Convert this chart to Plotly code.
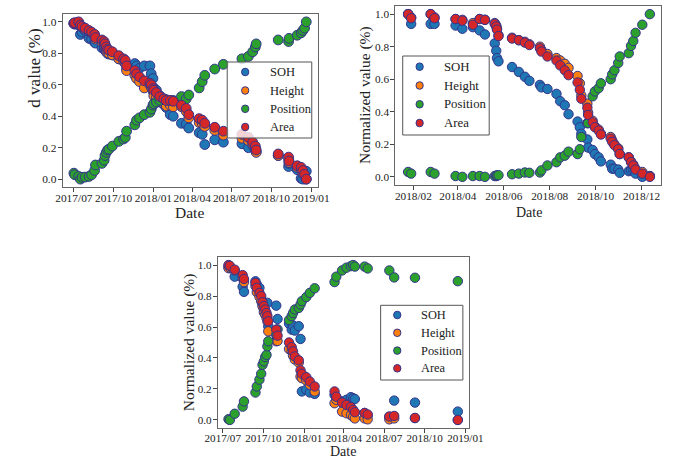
import plotly.graph_objects as go

SERIES = ["SOH", "Height", "Position", "Area"]
COLORS = ["#1f77b4", "#ff7f0e", "#2ca02c", "#d62728"]
EDGE = "#34348c"
FONT = "Liberation Serif, Times New Roman, serif"

# ---- Cell 1 (2017/07 - 2019/01) ----
dates_a = ["2017-07-01", "2017-07-03", "2017-07-12", "2017-07-16", "2017-07-20", "2017-07-27",
           "2017-08-05", "2017-08-11", "2017-08-18", "2017-08-20", "2017-09-04", "2017-09-09",
           "2017-09-11", "2017-09-14", "2017-09-17", "2017-09-20", "2017-09-28", "2017-10-13",
           "2017-10-24", "2017-10-28", "2017-10-31", "2017-11-19", "2017-11-23", "2017-11-30",
           "2017-12-11", "2017-12-24", "2017-12-27", "2017-12-31", "2018-01-02", "2018-01-08",
           "2018-01-16", "2018-01-25", "2018-01-31", "2018-02-09", "2018-02-16", "2018-03-07",
           "2018-03-18", "2018-03-24", "2018-04-17", "2018-04-24", "2018-04-30", "2018-05-23",
           "2018-06-12", "2018-07-25", "2018-08-09", "2018-08-19", "2018-08-25", "2018-08-27",
           "2018-10-17", "2018-11-10", "2018-11-11", "2018-11-30", "2018-12-09", "2018-12-13",
           "2018-12-17", "2018-12-21"]
soh_a = [0.99, 0.985, 0.98, 0.92, 0.935, 0.945, 0.895, 0.89, 0.87, 0.865, 0.835, 0.83, 0.82, 0.81,
         0.80, 0.795, 0.79, 0.765, 0.75, 0.74, 0.70, 0.735, 0.72, 0.705, 0.72, 0.72, 0.67, 0.64,
         0.58, 0.565, 0.53, 0.475, 0.455, 0.41, 0.40, 0.355, 0.35, 0.325, 0.295, 0.285, 0.22, 0.25,
         0.235, 0.225, 0.20, 0.215, 0.19, 0.175, 0.15, 0.08, 0.10, 0.06, 0.005, 0.0, 0.035, 0.05]
height_a = [0.99, 0.99, 0.995, 0.975, 0.965, 0.955, 0.94, 0.93, 0.905, 0.89, 0.87, 0.855, 0.84,
            0.815, 0.805, 0.80, 0.79, 0.765, 0.75, 0.735, 0.69, 0.66, 0.64, 0.62, 0.58, 0.60, 0.585,
            0.56, 0.53, 0.52, 0.49, 0.48, 0.465, 0.47, 0.46, 0.46, 0.43, 0.39, 0.36, 0.355, 0.335,
            0.31, 0.28, 0.26, 0.245, 0.225, 0.195, 0.17, 0.15, 0.125, 0.105, 0.075, 0.06, 0.04,
            0.02, 0.0]
pos_a = [0.038, 0.028, 0.017, 0.0, 0.012, 0.013, 0.017, 0.028, 0.055, 0.09, 0.10, 0.12, 0.15, 0.17,
         0.185, 0.19, 0.21, 0.24, 0.255, 0.265, 0.305, 0.345, 0.375, 0.39, 0.41, 0.425, 0.445, 0.47,
         0.48, 0.49, 0.50, 0.51, 0.505, 0.50, 0.50, 0.525, 0.51, 0.535, 0.58, 0.62, 0.66, 0.70,
         0.73, 0.765, 0.78, 0.81, 0.84, 0.86, 0.885, 0.875, 0.895, 0.915, 0.93, 0.945, 0.96, 1.0]
area_a = [0.99, 0.995, 1.0, 0.98, 0.97, 0.96, 0.945, 0.935, 0.92, 0.90, 0.885, 0.875, 0.86, 0.84,
          0.825, 0.82, 0.81, 0.785, 0.765, 0.755, 0.72, 0.69, 0.67, 0.65, 0.625, 0.61, 0.60, 0.575,
          0.565, 0.55, 0.525, 0.51, 0.50, 0.50, 0.495, 0.47, 0.45, 0.41, 0.385, 0.375, 0.355, 0.33,
          0.305, 0.285, 0.265, 0.235, 0.21, 0.185, 0.16, 0.14, 0.115, 0.085, 0.075, 0.055, 0.03, 0.0]

# ---- Cell 2 (2018/01 - 2018/12) ----
dates_b = ["2018-01-25", "2018-01-29", "2018-02-24", "2018-03-01", "2018-03-29", "2018-04-07",
           "2018-04-21", "2018-04-30", "2018-05-07", "2018-05-20", "2018-05-22", "2018-05-23",
           "2018-05-25", "2018-06-12", "2018-06-21", "2018-06-29", "2018-07-05", "2018-07-19",
           "2018-07-21", "2018-07-29", "2018-08-10", "2018-08-15", "2018-08-21", "2018-08-26",
           "2018-09-07", "2018-09-10", "2018-09-12", "2018-09-20", "2018-09-21", "2018-09-27",
           "2018-09-30", "2018-10-05", "2018-10-08", "2018-10-21", "2018-10-23", "2018-10-26",
           "2018-10-31", "2018-11-02", "2018-11-14", "2018-11-17", "2018-11-20", "2018-11-23",
           "2018-12-02", "2018-12-12"]
soh_b = [1.0, 0.94, 0.94, 0.94, 0.93, 0.91, 0.92, 0.90, 0.875, 0.82, 0.775, 0.73, 0.71, 0.675,
         0.645, 0.615, 0.59, 0.565, 0.55, 0.54, 0.51, 0.465, 0.44, 0.385, 0.34, 0.305, 0.265, 0.23,
         0.18, 0.165, 0.14, 0.12, 0.095, 0.075, 0.05, 0.05, 0.045, 0.025, 0.035, 0.04, 0.045, 0.02,
         0.0, 0.005]
height_b = [1.0, 0.98, 1.0, 0.98, 0.97, 0.965, 0.945, 0.97, 0.965, 0.945, 0.93, 0.91, 0.87, 0.855,
            0.84, 0.83, 0.815, 0.80, 0.78, 0.755, 0.73, 0.715, 0.695, 0.67, 0.62, 0.575, 0.50, 0.45,
            0.395, 0.345, 0.31, 0.29, 0.265, 0.245, 0.225, 0.20, 0.175, 0.14, 0.12, 0.095, 0.075,
            0.05, 0.03, 0.005]
pos_b = [0.03, 0.02, 0.03, 0.02, 0.005, 0.0, 0.005, 0.005, 0.0, 0.005, 0.005, 0.01, 0.01, 0.016,
         0.02, 0.027, 0.025, 0.027, 0.04, 0.07, 0.09, 0.12, 0.13, 0.155, 0.14, 0.17, 0.245, 0.33,
         0.33, 0.495, 0.525, 0.545, 0.575, 0.60, 0.63, 0.655, 0.70, 0.74, 0.76, 0.805, 0.835,
         0.885, 0.935, 1.0]
area_b = [1.0, 0.975, 1.0, 0.975, 0.97, 0.96, 0.935, 0.97, 0.965, 0.94, 0.925, 0.905, 0.865, 0.85,
          0.84, 0.825, 0.81, 0.79, 0.77, 0.74, 0.715, 0.685, 0.655, 0.625, 0.58, 0.535, 0.48, 0.425,
          0.38, 0.335, 0.305, 0.285, 0.26, 0.235, 0.215, 0.195, 0.17, 0.14, 0.12, 0.09, 0.07, 0.045,
          0.02, 0.0]

# ---- Cell 3 (2017/07 - 2018/12) ----
dates_c = ["2017-07-14", "2017-07-17", "2017-07-28", "2017-08-15", "2017-08-18", "2017-09-13",
           "2017-09-16", "2017-09-22", "2017-09-26", "2017-09-29", "2017-10-02", "2017-10-05",
           "2017-10-08", "2017-10-10", "2017-10-12", "2017-10-30", "2017-11-02", "2017-11-28",
           "2017-12-04", "2017-12-07", "2017-12-11", "2017-12-20", "2017-12-24", "2017-12-27",
           "2018-01-06", "2018-01-14", "2018-01-25", "2018-03-11", "2018-03-15", "2018-03-28",
           "2018-04-07", "2018-04-17", "2018-04-22", "2018-04-26", "2018-05-18", "2018-05-25",
           "2018-07-13", "2018-07-24", "2018-09-09", "2018-12-15"]
soh_c = [0.99, 0.98, 0.925, 0.86, 0.827, 0.895, 0.875, 0.853, 0.78, 0.745, 0.713, 0.69, 0.674,
         0.756, 0.605, 0.738, 0.652, 0.622, 0.583, 0.61, 0.577, 0.605, 0.523, 0.184, 0.195, 0.177,
         0.168, 0.162, 0.14, 0.12, 0.13, 0.147, 0.14, 0.135, 0.045, 0.03, 0.02, 0.125, 0.112, 0.054]
height_c = [0.98, 0.985, 0.965, 0.915, 0.89, 0.865, 0.825, 0.795, 0.767, 0.734, 0.695, 0.68, 0.66,
            0.637, 0.572, 0.508, 0.51, 0.458, 0.443, 0.415, 0.39, 0.37, 0.28, 0.27, 0.255, 0.227,
            0.184, 0.108, 0.13, 0.054, 0.043, 0.032, 0.02, 0.01, 0.01, 0.004, 0.004, 0.01, 0.012, 0.0]
pos_c = [0.005, 0.0, 0.04, 0.086, 0.12, 0.177, 0.216, 0.26, 0.298, 0.356, 0.378, 0.406, 0.42,
         0.475, 0.508, 0.55, 0.585, 0.645, 0.67, 0.69, 0.713, 0.723, 0.745, 0.767, 0.793, 0.82,
         0.85, 0.89, 0.925, 0.965, 0.983, 0.993, 1.0, 0.99, 0.99, 0.978, 0.965, 0.92, 0.918, 0.896]
area_c = [1.0, 0.995, 0.97, 0.935, 0.91, 0.885, 0.853, 0.82, 0.80, 0.76, 0.735, 0.713, 0.69, 0.67,
          0.637, 0.583, 0.544, 0.50, 0.47, 0.443, 0.41, 0.385, 0.32, 0.298, 0.276, 0.248, 0.216,
          0.184, 0.15, 0.112, 0.097, 0.083, 0.065, 0.05, 0.045, 0.035, 0.022, 0.026, 0.013, 0.0]

# ---- tick labels ----
quarter_ticks = ["2017-07-01", "2017-10-01", "2018-01-01", "2018-04-01",
                 "2018-07-01", "2018-10-01", "2019-01-01"]
quarter_text = ["2017/07", "2017/10", "2018/01", "2018/04", "2018/07", "2018/10", "2019/01"]
bimonth_ticks = ["2018-02-01", "2018-04-01", "2018-06-01", "2018-08-01", "2018-10-01", "2018-12-01"]
bimonth_text = ["2018/02", "2018/04", "2018/06", "2018/08", "2018/10", "2018/12"]
y_ticks = [0.0, 0.2, 0.4, 0.6, 0.8, 1.0]

W, H = 686, 459


def px_x(v):
    return v / W


def px_y(v):
    return 1 - v / H


panels = [
    dict(dates=dates_a, values=[soh_a, height_a, pos_a, area_a], ax="",
         xdom=(51.7, 317), ydom=(187, 14), xrange=["2017-06-05", "2019-01-16"],
         ticks=quarter_ticks, text=quarter_text, tick_size=11.4, label_size=17,
         msize=9.8, date_pos=(184, 212), ylab=("d value (%)", 22, 27),
         legend_box=(223, 62, 311, 138), legend_rows=(72, 90.5, 108.8, 127),
         legend_marker_x=241.7, legend_text_x=265, legend_size=12.5),
    dict(dates=dates_b, values=[soh_b, height_b, pos_b, area_b], ax="2",
         xdom=(398, 674.7), ydom=(185, 6), xrange=["2018-01-08", "2018-12-27"],
         ticks=bimonth_ticks, text=bimonth_text, tick_size=11.3, label_size=15.5,
         msize=9.4, date_pos=(536.7, 212), ylab=("Normalized value (%)", 367, None),
         legend_box=(405.7, 56, 495.7, 135), legend_rows=(66.7, 85.5, 104.3, 123),
         legend_marker_x=423.3, legend_text_x=447, legend_size=12.8),
    dict(dates=dates_c, values=[soh_c, height_c, pos_c, area_c], ax="3",
         xdom=(213.3, 475), ydom=(427.7, 257.3), xrange=["2017-06-20", "2019-01-10"],
         ticks=quarter_ticks, text=quarter_text, tick_size=11.1, label_size=15.5,
         msize=9.4, date_pos=(343.7, 451.7), ylab=("Normalized value (%)", 183, None),
         legend_box=(382.7, 305.3, 468.3, 380), legend_rows=(315, 332.8, 350.6, 368.3),
         legend_marker_x=400, legend_text_x=423, legend_size=12.4),
]

fig = go.Figure()
layout = dict(width=W, height=H, margin=dict(l=0, r=0, t=0, b=0),
              paper_bgcolor="white", plot_bgcolor="white", showlegend=False,
              font=dict(family=FONT, color="#222"), annotations=[], shapes=[])

for p in panels:
    xa, ya = "x" + p["ax"], "y" + p["ax"]
    for name, color, vals in zip(SERIES, COLORS, p["values"]):
        fig.add_trace(go.Scatter(
            x=p["dates"], y=vals, mode="markers", name=name, xaxis=xa, yaxis=ya,
            marker=dict(size=p["msize"], color=color, line=dict(color=EDGE, width=1))))

    axis_common = dict(showline=True, mirror=True, linecolor="#666", linewidth=1,
                       ticks="outside", ticklen=4, tickwidth=1, tickcolor="#444",
                       showgrid=False, zeroline=False, tickangle=0,
                       tickfont=dict(family=FONT, size=p["tick_size"], color="#222"))
    layout["xaxis" + p["ax"]] = dict(
        domain=[px_x(p["xdom"][0]), px_x(p["xdom"][1])], anchor=ya, type="date",
        range=p["xrange"], tickmode="array", tickvals=p["ticks"], ticktext=p["text"],
        ticklabelstandoff=-4, **axis_common)
    layout["yaxis" + p["ax"]] = dict(
        domain=[px_y(p["ydom"][0]), px_y(p["ydom"][1])], anchor=xa,
        range=[-0.05, 1.05], tickmode="array", tickvals=y_ticks,
        ticktext=[f"{v:.1f}" for v in y_ticks], ticklabelstandoff=-1, **axis_common)

    # axis titles
    layout["annotations"].append(dict(
        text="Date", x=px_x(p["date_pos"][0]), y=px_y(p["date_pos"][1]), xref="paper",
        yref="paper", showarrow=False, xanchor="center", yanchor="middle",
        font=dict(family=FONT, size=p["label_size"] - 1.5, color="#222")))
    label, lx, ltop = p["ylab"]
    if ltop is None:
        ly, yanchor = px_y((p["ydom"][0] + p["ydom"][1]) / 2), "middle"
    else:
        ly, yanchor = px_y(ltop), "top"
    layout["annotations"].append(dict(
        text=label, x=px_x(lx), y=ly, xref="paper", yref="paper", showarrow=False,
        xanchor="center", yanchor=yanchor, textangle=-90,
        font=dict(family=FONT, size=p["label_size"], color="#222")))

    # legend frame, symbols and entries
    x0, y0, x1, y1 = p["legend_box"]
    layout["shapes"].append(dict(
        type="rect", xref="paper", yref="paper", layer="above",
        x0=px_x(x0), x1=px_x(x1), y0=px_y(y1), y1=px_y(y0),
        fillcolor="rgba(255,255,255,0.8)", line=dict(color="#555", width=1)))
    r = 3.8
    mx = p["legend_marker_x"]
    for name, color, ry in zip(SERIES, COLORS, p["legend_rows"]):
        layout["shapes"].append(dict(
            type="circle", xref="paper", yref="paper", layer="above",
            x0=px_x(mx - r), x1=px_x(mx + r), y0=px_y(ry + r), y1=px_y(ry - r),
            fillcolor=color, line=dict(color=EDGE, width=1)))
        layout["annotations"].append(dict(
            text=name, x=px_x(p["legend_text_x"]), y=px_y(ry), xref="paper", yref="paper",
            showarrow=False, xanchor="left", yanchor="middle",
            font=dict(family=FONT, size=p["legend_size"], color="#222")))

fig.update_layout(**layout)
fig.write_html("out.html")
